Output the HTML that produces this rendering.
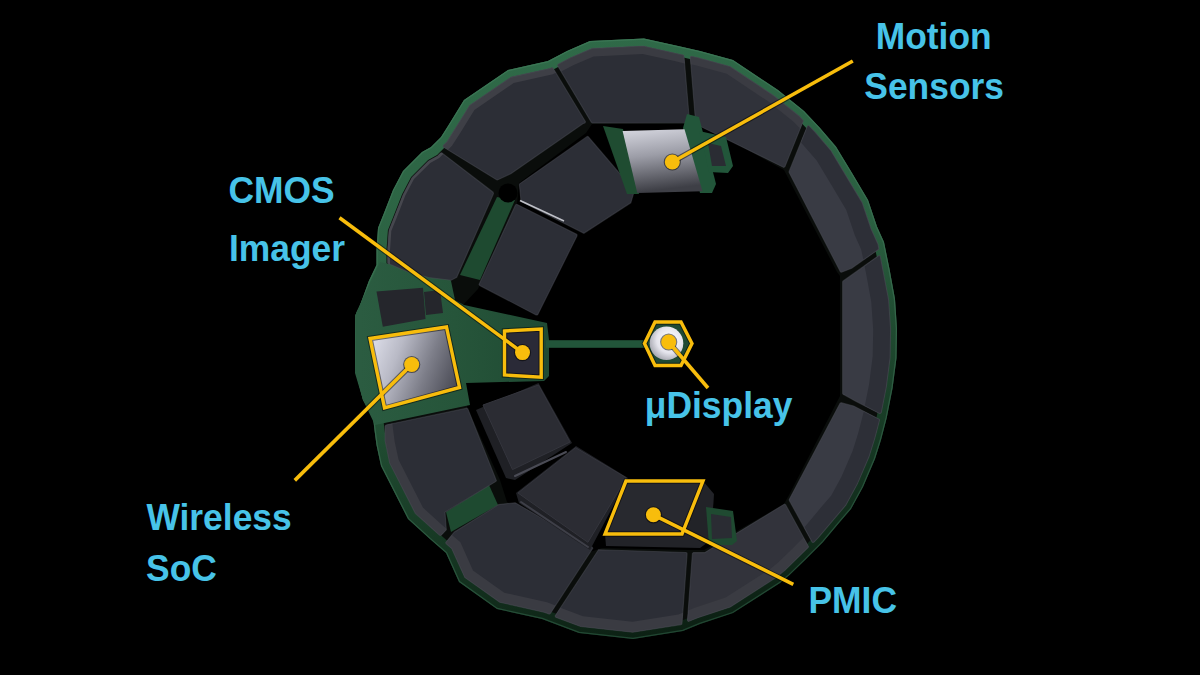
<!DOCTYPE html>
<html><head><meta charset="utf-8"><style>
html,body{margin:0;padding:0;background:#000;width:1200px;height:675px;overflow:hidden}
svg{display:block}
.lb{font-family:"Liberation Sans",sans-serif;font-weight:bold;font-size:37px;fill:#47c3e8}
</style></head><body>
<svg width="1200" height="675" viewBox="0 0 1200 675">
<rect width="1200" height="675" fill="#000"/>
<defs>
<linearGradient id="silv" x1="0" y1="0.25" x2="1" y2="0.6"><stop offset="0" stop-color="#dcdde8"/><stop offset="0.3" stop-color="#b9bac6"/><stop offset="0.65" stop-color="#7d7e89"/><stop offset="1" stop-color="#4a4b55"/></linearGradient>
<linearGradient id="silv2" x1="0" y1="0" x2="0.15" y2="1"><stop offset="0" stop-color="#d6d7e0"/><stop offset="0.45" stop-color="#9c9da7"/><stop offset="1" stop-color="#3e3f46"/></linearGradient>
<linearGradient id="pcbg" gradientUnits="userSpaceOnUse" x1="360" y1="0" x2="550" y2="0"><stop offset="0" stop-color="#2b5c41"/><stop offset="0.5" stop-color="#26553a"/><stop offset="1" stop-color="#1f4a33"/></linearGradient>
<radialGradient id="hexc" cx="0.6" cy="0.4" r="0.65"><stop offset="0" stop-color="#ffffff"/><stop offset="0.6" stop-color="#e4e4ec"/><stop offset="1" stop-color="#a4a5ae"/></radialGradient>
<linearGradient id="rimhl" gradientUnits="userSpaceOnUse" x1="560" y1="40" x2="700" y2="640"><stop offset="0" stop-color="#3a7654"/><stop offset="0.5" stop-color="#36694c"/><stop offset="1" stop-color="#1f4430"/></linearGradient>
<linearGradient id="rim" gradientUnits="userSpaceOnUse" x1="560" y1="40" x2="700" y2="640"><stop offset="0" stop-color="#2f6a48"/><stop offset="0.4" stop-color="#2a5f40"/><stop offset="0.58" stop-color="#1f4a30"/><stop offset="0.8" stop-color="#143320"/><stop offset="1" stop-color="#0b1e12"/></linearGradient>
</defs>
<path d="M567.0,51.0 L548.0,61.0 L508.0,70.0 L464.0,100.0 L448.0,126.0 L441.0,137.0 L431.0,147.0 L422.0,152.0 L403.0,171.0 L393.0,190.0 L384.0,213.0 L378.0,228.0 L376.5,250.0 L376.5,265.0 L368.8,281.0 L359.0,308.0 L355.4,315.0 L355.0,369.0 L363.0,400.0 L372.7,415.0 L374.6,431.0 L376.5,445.0 L381.0,466.0 L408.0,519.0 L430.0,539.0 L446.0,553.0 L459.0,582.0 L497.0,609.0 L542.0,619.0 L579.0,633.0 L633.0,639.0 L683.0,631.0 L700.0,624.0 L733.0,613.0 L780.0,583.0 L789.5,575.0 L804.0,561.0 L823.0,542.0 L839.0,523.0 L851.0,509.0 L863.0,487.0 L875.0,459.0 L881.0,440.0 L886.7,418.0 L892.6,388.0 L896.5,358.0 L897.0,329.0 L895.0,299.0 L889.6,269.6 L884.0,242.0 L877.0,226.5 L868.0,200.0 L852.0,173.0 L836.0,146.6 L820.0,128.0 L804.0,111.0 L778.0,90.0 L733.0,60.0 L700.0,51.0 L678.0,46.0 L644.0,38.5 L590.0,41.0Z M690.0,124.0 L700.0,124.0 L784.0,170.0 L837.0,272.0 L840.0,276.0 L840.0,396.0 L789.0,495.0 L784.0,504.0 L704.0,550.0 L690.0,550.0 L602.0,548.0 L587.0,553.0 L507.0,502.0 L500.0,480.0 L467.0,407.0 L466.0,383.0 L463.0,305.0 L478.0,289.0 L517.0,204.0 L519.0,183.0 L586.0,133.0 L592.0,124.0Z" fill="#0a0d0b" />
<path d="M567.0,51.0 L548.0,61.0 L508.0,70.0 L464.0,100.0 L448.0,126.0 L441.0,137.0 L431.0,147.0 L422.0,152.0 L403.0,171.0 L393.0,190.0 L384.0,213.0 L378.0,228.0 L376.5,250.0 L376.5,265.0 L368.8,281.0 L359.0,308.0 L355.4,315.0 L355.0,369.0 L363.0,400.0 L372.7,415.0 L374.6,431.0 L376.5,445.0 L381.0,466.0 L408.0,519.0 L430.0,539.0 L446.0,553.0 L459.0,582.0 L497.0,609.0 L542.0,619.0 L579.0,633.0 L633.0,639.0 L683.0,631.0 L700.0,624.0 L733.0,613.0 L780.0,583.0 L789.5,575.0 L804.0,561.0 L823.0,542.0 L839.0,523.0 L851.0,509.0 L863.0,487.0 L875.0,459.0 L881.0,440.0 L886.7,418.0 L892.6,388.0 L896.5,358.0 L897.0,329.0 L895.0,299.0 L889.6,269.6 L884.0,242.0 L877.0,226.5 L868.0,200.0 L852.0,173.0 L836.0,146.6 L820.0,128.0 L804.0,111.0 L778.0,90.0 L733.0,60.0 L700.0,51.0 L678.0,46.0 L644.0,38.5 L590.0,41.0Z M643.1,48.6 L675.8,55.8 L697.6,60.7 L728.8,69.2 L772.1,98.1 L797.2,118.4 L812.6,134.7 L827.9,152.5 L843.4,178.1 L858.9,204.2 L867.7,230.2 L874.4,245.1 L879.8,271.5 L885.1,300.2 L887.0,329.2 L886.5,357.3 L882.7,386.4 L876.9,415.8 L871.4,437.2 L865.6,455.5 L854.0,482.6 L842.7,503.3 L831.4,516.5 L815.6,535.2 L797.0,553.9 L782.8,567.6 L774.1,574.9 L728.7,603.9 L696.5,614.6 L680.3,621.3 L632.8,628.9 L581.4,623.2 L544.9,609.4 L501.1,599.7 L467.0,575.4 L454.2,546.9 L436.7,531.5 L416.1,512.8 L390.5,462.6 L386.4,443.3 L384.5,429.7 L382.4,411.5 L372.3,395.9 L365.0,367.8 L365.4,317.5 L368.2,312.0 L378.0,284.9 L386.5,267.3 L386.5,250.3 L387.9,230.3 L393.3,216.7 L402.1,194.2 L411.1,177.0 L428.1,160.1 L437.1,155.1 L448.8,143.3 L456.5,131.3 L471.4,107.1 L512.1,79.3 L551.5,70.5 L571.3,60.0 L592.3,50.9Z" fill="url(#rim)" />
<path d="M590.1,41.6 L567.3,51.5 L548.2,61.6 L508.2,70.6 L464.4,100.4 L448.5,126.3 L441.5,137.4 L431.4,147.5 L422.4,152.5 L403.5,171.4 L393.5,190.2 L384.6,213.2 L378.6,228.1 L377.1,250.0 L377.1,265.1 L369.4,281.2 L359.6,308.2 L356.0,315.1 L355.6,368.9 L363.6,399.8 L373.3,414.8 L375.2,430.9 L377.1,444.9 L381.6,465.8 L408.5,518.6 L430.4,538.6 L446.5,552.6 L459.5,581.6 L497.2,608.4 L542.2,618.4 L579.1,632.4 L633.0,638.4 L682.8,630.4 L699.8,623.4 L732.7,612.5 L779.6,582.5 L789.1,574.6 L803.6,560.6 L822.6,541.6 L838.5,522.6 L850.5,508.7 L862.5,486.7 L874.4,458.8 L880.4,439.8 L886.1,417.9 L892.0,387.9 L895.9,358.0 L896.4,329.0 L894.4,299.1 L889.0,269.7 L883.4,242.2 L876.4,226.7 L867.5,200.3 L851.5,173.3 L835.5,147.0 L819.6,128.4 L803.6,111.4 L777.6,90.5 L732.7,60.6 L699.9,51.6 L677.9,46.6 L643.9,39.1Z" fill="none" stroke="url(#rimhl)" stroke-width="1.2"/>
<polygon points="380.0,262.0 370.0,283.0 356.0,313.0 355.0,373.0 363.0,400.0 375.0,425.0 470.0,405.0 466.0,383.0 544.0,381.0 549.0,376.0 549.0,348.0 549.0,340.0 547.0,323.0 464.0,305.0 455.0,300.0 451.0,281.0 448.0,276.0" fill="url(#pcbg)" />
<rect x="546" y="340.2" width="99" height="7.6" fill="#22553a"/>
<polygon points="497.0,197.0 515.0,200.0 480.0,280.0 460.0,275.0" fill="#1e4a30" />
<polygon points="446.0,512.0 489.0,485.0 498.0,505.0 451.0,532.0" fill="#1e4a30" />
<path d="M591.4,122.4 L592.4,123.0 L689.0,122.8 L689.5,121.7 L683.9,55.3 L683.2,54.9 L643.3,46.0 L591.9,48.4 L570.3,57.7 L558.1,64.2 L557.6,64.9 L557.7,65.8Z" fill="#2c2e36" />
<path d="M683.9,55.3 L683.2,54.9 L643.3,46.0 L591.9,48.4 L570.3,57.7 L558.1,64.2 L557.6,64.9 L557.7,65.8 L561.2,71.6 L573.7,65.0 L593.6,56.4 L642.7,54.1 L674.6,61.1 L684.6,63.4Z" fill="#3a3b42" />
<path d="M591.4,122.4 L592.4,123.0 L689.0,122.8 L689.5,121.7 L683.9,55.3 L683.2,54.9 L643.3,46.0 L591.9,48.4 L570.3,57.7 L558.1,64.2 L557.6,64.9 L557.7,65.8Z" fill="none" stroke="#50515a" stroke-opacity="0.45" stroke-width="1.1"/>
<path d="M695.7,123.4 L696.4,124.4 L783.8,167.4 L784.9,166.7 L803.3,121.0 L803.1,120.2 L799.2,116.1 L773.9,95.7 L730.1,66.5 L698.3,57.8 L691.4,56.3 L690.6,56.7 L690.3,57.6Z" fill="#30323a" />
<path d="M803.3,121.0 L803.1,120.2 L799.2,116.1 L773.9,95.7 L730.1,66.5 L698.3,57.8 L691.4,56.3 L690.6,56.7 L690.3,57.6 L690.8,64.3 L696.4,65.6 L726.7,73.8 L769.1,102.1 L793.8,122.0 L800.2,128.8Z" fill="#3a3b42" />
<path d="M695.7,123.4 L696.4,124.4 L783.8,167.4 L784.9,166.7 L803.3,121.0 L803.1,120.2 L799.2,116.1 L773.9,95.7 L730.1,66.5 L698.3,57.8 L691.4,56.3 L690.6,56.7 L690.3,57.6Z" fill="none" stroke="#50515a" stroke-opacity="0.45" stroke-width="1.1"/>
<path d="M789.1,171.4 L789.1,172.4 L840.5,272.1 L841.6,272.3 L851.7,268.2 L878.5,249.4 L878.8,248.5 L877.9,244.0 L871.0,228.8 L862.1,202.6 L830.8,150.4 L815.3,132.3 L808.9,125.7 L808.0,125.7 L807.3,126.3Z" fill="#393b44" />
<path d="M878.5,249.4 L878.8,248.5 L877.9,244.0 L871.0,228.8 L862.1,202.6 L830.8,150.4 L815.3,132.3 L808.9,125.7 L808.0,125.7 L807.3,126.3 L800.8,142.3 L802.3,143.9 L816.7,160.6 L831.6,185.2 L846.3,210.0 L854.8,235.2 L861.2,249.4 L863.4,260.0Z" fill="#2d2f37" />
<path d="M789.1,171.4 L789.1,172.4 L840.5,272.1 L841.6,272.3 L851.7,268.2 L878.5,249.4 L878.8,248.5 L877.9,244.0 L871.0,228.8 L862.1,202.6 L830.8,150.4 L815.3,132.3 L808.9,125.7 L808.0,125.7 L807.3,126.3Z" fill="none" stroke="#50515a" stroke-opacity="0.45" stroke-width="1.1"/>
<path d="M878.6,255.8 L843.1,281.0 L842.6,281.8 L842.6,393.5 L843.2,394.3 L855.7,401.2 L879.5,413.4 L880.3,413.5 L881.3,412.5 L886.3,387.0 L890.1,357.6 L890.6,329.2 L888.6,299.7 L880.2,256.1 L879.5,255.6Z" fill="#393b44" />
<path d="M864.5,265.7 L866.2,274.1 L871.3,302.0 L873.2,329.6 L872.7,356.3 L869.1,384.2 L864.8,405.9 L879.5,413.4 L880.3,413.5 L881.3,412.5 L886.3,387.0 L890.1,357.6 L890.6,329.2 L888.6,299.7 L880.2,256.1 L879.5,255.6 L878.6,255.8Z" fill="#2d2f37" />
<path d="M878.6,255.8 L843.1,281.0 L842.6,281.8 L842.6,393.5 L843.2,394.3 L855.7,401.2 L879.5,413.4 L880.3,413.5 L881.3,412.5 L886.3,387.0 L890.1,357.6 L890.6,329.2 L888.6,299.7 L880.2,256.1 L879.5,255.6Z" fill="none" stroke="#50515a" stroke-opacity="0.45" stroke-width="1.1"/>
<path d="M853.7,406.0 L841.1,402.7 L840.0,403.3 L789.2,499.6 L789.3,500.5 L812.0,541.8 L812.7,542.4 L813.8,542.2 L818.3,537.6 L845.8,505.2 L857.3,484.1 L869.0,456.8 L874.8,438.3 L879.5,420.3 L879.3,419.3Z" fill="#393b44" />
<path d="M812.0,541.8 L812.7,542.4 L813.8,542.2 L818.3,537.6 L845.8,505.2 L857.3,484.1 L869.0,456.8 L874.8,438.3 L879.5,420.3 L879.3,419.3 L863.8,411.2 L863.5,412.7 L858.1,433.4 L852.7,450.7 L841.6,476.6 L831.3,495.4 L820.9,507.6 L805.5,525.9 L804.0,527.3Z" fill="#2d2f37" />
<path d="M853.7,406.0 L841.1,402.7 L840.0,403.3 L789.2,499.6 L789.3,500.5 L812.0,541.8 L812.7,542.4 L813.8,542.2 L818.3,537.6 L845.8,505.2 L857.3,484.1 L869.0,456.8 L874.8,438.3 L879.5,420.3 L879.3,419.3Z" fill="none" stroke="#50515a" stroke-opacity="0.45" stroke-width="1.1"/>
<path d="M704.7,552.6 L693.4,552.6 L692.4,553.5 L687.5,620.1 L687.7,620.9 L688.5,621.4 L697.7,617.8 L730.3,606.9 L776.1,577.6 L785.1,570.1 L808.2,547.5 L808.5,546.5 L785.6,504.7 L784.5,504.1Z" fill="#32333b" />
<path d="M687.5,620.1 L687.7,620.9 L688.5,621.4 L697.7,617.8 L730.3,606.9 L776.1,577.6 L785.1,570.1 L808.2,547.5 L808.5,546.5 L803.5,537.4 L792.1,548.9 L778.1,562.4 L769.9,569.3 L725.6,597.5 L694.1,608.1 L688.2,610.5Z" fill="#3a3b42" />
<path d="M704.7,552.6 L693.4,552.6 L692.4,553.5 L687.5,620.1 L687.7,620.9 L688.5,621.4 L697.7,617.8 L730.3,606.9 L776.1,577.6 L785.1,570.1 L808.2,547.5 L808.5,546.5 L785.6,504.7 L784.5,504.1Z" fill="none" stroke="#50515a" stroke-opacity="0.45" stroke-width="1.1"/>
<path d="M681.0,624.6 L681.7,624.3 L682.0,623.5 L687.1,553.8 L686.8,552.9 L686.0,552.5 L598.5,549.8 L555.1,616.0 L555.8,617.2 L580.6,626.5 L632.7,632.3Z" fill="#2c2e36" />
<path d="M681.7,624.3 L682.0,623.5 L682.8,612.7 L678.4,614.5 L632.6,621.8 L583.0,616.3 L560.4,607.8 L555.1,616.0 L555.8,617.2 L580.6,626.5 L632.7,632.3 L681.0,624.6Z" fill="#3a3b42" />
<path d="M681.0,624.6 L681.7,624.3 L682.0,623.5 L687.1,553.8 L686.8,552.9 L686.0,552.5 L598.5,549.8 L555.1,616.0 L555.8,617.2 L580.6,626.5 L632.7,632.3Z" fill="none" stroke="#50515a" stroke-opacity="0.45" stroke-width="1.1"/>
<path d="M451.8,548.7 L464.8,577.4 L499.7,602.2 L544.0,612.2 L549.3,614.1 L550.3,613.5 L592.8,548.3 L592.2,547.2 L515.2,502.7 L498.7,504.6 L454.4,532.0 L445.7,542.6 L446.0,543.6Z" fill="#2c2e36" />
<path d="M464.8,577.4 L499.7,602.2 L544.0,612.2 L549.3,614.1 L550.3,613.5 L555.5,605.4 L547.0,602.2 L504.3,592.7 L473.0,570.5 L460.4,542.3 L451.9,534.9 L445.7,542.6 L446.0,543.6 L451.8,548.7Z" fill="#3a3b42" />
<path d="M451.8,548.7 L464.8,577.4 L499.7,602.2 L544.0,612.2 L549.3,614.1 L550.3,613.5 L592.8,548.3 L592.2,547.2 L515.2,502.7 L498.7,504.6 L454.4,532.0 L445.7,542.6 L446.0,543.6Z" fill="none" stroke="#50515a" stroke-opacity="0.45" stroke-width="1.1"/>
<path d="M445.0,512.2 L495.9,481.4 L496.4,480.7 L467.8,408.9 L466.9,408.2 L386.1,424.9 L385.1,425.9 L385.1,440.8 L389.6,462.9 L415.3,513.3 L436.1,532.2 L439.6,535.3 L440.4,535.5 L441.1,535.2 L446.3,529.8Z" fill="#2c2e36" />
<path d="M386.1,424.9 L385.1,425.9 L385.1,440.8 L389.6,462.9 L415.3,513.3 L436.1,532.2 L439.6,535.3 L440.4,535.5 L441.1,535.2 L446.3,529.8 L446.2,528.6 L442.3,525.2 L422.9,507.6 L398.6,459.8 L394.7,441.8 L393.0,428.7 L392.4,423.6Z" fill="#3a3b42" />
<path d="M445.0,512.2 L495.9,481.4 L496.4,480.7 L467.8,408.9 L466.9,408.2 L386.1,424.9 L385.1,425.9 L385.1,440.8 L389.6,462.9 L415.3,513.3 L436.1,532.2 L439.6,535.3 L440.4,535.5 L441.1,535.2 L446.3,529.8Z" fill="none" stroke="#50515a" stroke-opacity="0.45" stroke-width="1.1"/>
<path d="M406.8,271.5 L428.6,277.5 L451.1,280.3 L456.7,277.3 L493.5,193.6 L493.1,192.2 L441.8,152.8 L440.7,153.0 L437.7,155.9 L428.7,161.0 L412.0,177.7 L403.1,194.7 L389.0,230.4 L387.6,250.3 L387.7,262.9 L388.3,263.6Z" fill="#2c2e36" />
<path d="M441.8,152.8 L440.7,153.0 L437.7,155.9 L428.7,161.0 L412.0,177.7 L403.1,194.7 L389.0,230.4 L387.6,250.3 L387.7,262.9 L388.3,263.6 L390.0,264.3 L390.0,250.5 L391.3,231.0 L396.6,218.0 L405.3,195.6 L414.0,179.1 L430.2,162.9 L439.2,157.9 L443.2,153.9Z" fill="#46474e" />
<path d="M406.8,271.5 L428.6,277.5 L451.1,280.3 L456.7,277.3 L493.5,193.6 L493.1,192.2 L441.8,152.8 L440.7,153.0 L437.7,155.9 L428.7,161.0 L412.0,177.7 L403.1,194.7 L389.0,230.4 L387.6,250.3 L387.7,262.9 L388.3,263.6Z" fill="none" stroke="#50515a" stroke-opacity="0.45" stroke-width="1.1"/>
<path d="M443.4,145.3 L443.1,146.3 L443.6,147.2 L496.6,179.7 L497.4,179.9 L510.8,173.7 L582.8,123.7 L585.0,122.9 L585.5,121.7 L553.1,68.2 L551.9,67.6 L550.6,68.2 L511.1,77.1 L469.8,105.2 L447.0,141.8Z" fill="#2c2e36" />
<path d="M443.1,146.3 L443.6,147.2 L448.0,149.8 L452.0,145.8 L459.9,133.4 L474.4,109.9 L513.7,83.1 L552.9,74.3 L555.8,72.7 L553.1,68.2 L551.9,67.6 L550.6,68.2 L511.1,77.1 L469.8,105.2 L447.0,141.8 L443.4,145.3Z" fill="#3e3f46" />
<path d="M443.4,145.3 L443.1,146.3 L443.6,147.2 L496.6,179.7 L497.4,179.9 L510.8,173.7 L582.8,123.7 L585.0,122.9 L585.5,121.7 L553.1,68.2 L551.9,67.6 L550.6,68.2 L511.1,77.1 L469.8,105.2 L447.0,141.8Z" fill="none" stroke="#50515a" stroke-opacity="0.45" stroke-width="1.1"/>
<path d="M521.0,200.9 L521.7,201.9 L583.9,233.3 L630.8,202.8 L634.4,190.7 L588.3,136.8 L587.3,136.4 L519.7,183.8 L519.4,184.8Z" fill="#2c2e36" />
<path d="M521.0,200.9 L521.7,201.9 L583.9,233.3 L630.8,202.8 L634.4,190.7 L588.3,136.8 L587.3,136.4 L519.7,183.8 L519.4,184.8Z" fill="none" stroke="#50515a" stroke-opacity="0.45" stroke-width="1.1"/>
<path d="M515.5,205.1 L479.1,284.3 L479.7,285.5 L536.1,314.9 L537.2,315.0 L537.8,314.4 L577.0,235.9 L577.0,234.8 L576.5,234.2 L517.2,204.5 L516.1,204.5Z" fill="#2c2e36" />
<path d="M515.5,205.1 L479.1,284.3 L479.7,285.5 L536.1,314.9 L537.2,315.0 L537.8,314.4 L577.0,235.9 L577.0,234.8 L576.5,234.2 L517.2,204.5 L516.1,204.5Z" fill="none" stroke="#50515a" stroke-opacity="0.45" stroke-width="1.1"/>
<polygon points="476.0,410.0 538.5,383.0 572.0,443.0 515.0,480.0 506.0,478.0" fill="#1f2025" />
<polygon points="483.0,405.0 538.5,385.0 570.0,442.0 512.5,469.6" fill="#2b2c33" stroke="#34353d" stroke-width="1"/>
<polygon points="516.0,493.0 576.0,446.0 628.0,478.0 590.0,550.0 519.0,503.0" fill="#1f2025" />
<polygon points="518.0,493.0 575.6,447.7 626.3,477.8 587.9,542.3" fill="#2b2c33" stroke="#34353d" stroke-width="1"/>
<line x1="515" y1="476" x2="566" y2="452" stroke="#4a4b55" stroke-width="2" stroke-linecap="round"/>
<line x1="521" y1="502" x2="588" y2="547" stroke="#3e3f48" stroke-width="2" stroke-linecap="round"/>
<line x1="520" y1="200.5" x2="564" y2="221" stroke="#d8d9e0" stroke-width="1.6" stroke-opacity="0.85"/>
<polygon points="603.0,126.0 623.0,129.0 639.0,194.0 627.0,194.0" fill="#1f4c31" />
<polygon points="687.0,114.0 699.0,117.0 716.0,184.0 712.0,193.0 700.0,193.0 683.0,128.0" fill="#22563a" />
<polygon points="699.0,131.0 726.0,137.0 733.0,166.0 728.0,173.0 709.0,172.0 704.0,150.0" fill="#22563a" />
<polygon points="708.0,143.0 721.0,146.0 726.0,166.0 712.0,166.0" fill="#2a2c33" />
<polygon points="605.0,534.0 626.0,481.0 703.0,481.0 714.0,494.0 711.0,540.0 700.0,548.0 606.0,546.0" fill="#222328" />
<polygon points="706.0,507.0 733.0,511.0 737.0,541.0 732.0,545.0 709.0,545.0" fill="#1f4a31" />
<polygon points="711.0,514.0 731.0,517.0 732.0,538.0 712.0,539.0" fill="#2a2c33" />
<polygon points="376.5,291.5 423.0,287.7 425.5,319.0 382.8,326.7" fill="#25262c" />
<polygon points="424.0,292.0 440.0,290.0 443.0,313.0 426.0,315.0" fill="#25262c" />
<circle cx="508" cy="193" r="9.5" fill="#000"/>
<polygon points="370.0,338.5 446.5,327.0 459.5,387.5 384.5,408.0" fill="url(#silv)" />
<polygon points="622.6,131.0 684.5,129.3 702.5,191.3 637.3,192.9" fill="url(#silv2)" />
<polygon points="644.5,343.5 655,322 681,322 692,343.5 681,365.5 655,365.5" fill="#1f4a34"/>
<circle cx="666.5" cy="343.3" r="16.8" fill="url(#hexc)"/>
<polygon points="370.0,338.5 446.5,327.0 459.5,387.5 384.5,408.0" fill="none" stroke="#000" stroke-opacity="0.5" stroke-width="5.4"/>
<polygon points="504.5,331.0 541.2,329.0 541.2,377.2 504.5,375.0" fill="#2a2a37" stroke="#000" stroke-opacity="0.5" stroke-width="5.4"/>
<polygon points="626.0,481.0 703.0,481.0 682.0,534.0 605.0,534.0" fill="#28292f" stroke="#000" stroke-opacity="0.5" stroke-width="5.4"/>
<polygon points="644.5,343.5 655.0,322.0 681.0,322.0 692.0,343.5 681.0,365.5 655.0,365.5" fill="none" stroke="#000" stroke-opacity="0.5" stroke-width="5.4"/>
<line x1="672.3" y1="162" x2="852.8" y2="61" stroke="#000" stroke-opacity="0.5" stroke-width="5.6"/>
<circle cx="672.3" cy="162" r="8.6" fill="#000" fill-opacity="0.5"/>
<line x1="522.5" y1="352.6" x2="339.5" y2="217.7" stroke="#000" stroke-opacity="0.5" stroke-width="5.6"/>
<circle cx="522.5" cy="352.6" r="8.6" fill="#000" fill-opacity="0.5"/>
<line x1="411.7" y1="364.5" x2="294.8" y2="480.4" stroke="#000" stroke-opacity="0.5" stroke-width="5.6"/>
<circle cx="411.7" cy="364.5" r="8.6" fill="#000" fill-opacity="0.5"/>
<line x1="668.7" y1="342" x2="708" y2="388" stroke="#000" stroke-opacity="0.5" stroke-width="5.6"/>
<circle cx="668.7" cy="342" r="8.6" fill="#000" fill-opacity="0.5"/>
<line x1="653.4" y1="514.8" x2="793.3" y2="584.4" stroke="#000" stroke-opacity="0.5" stroke-width="5.6"/>
<circle cx="653.4" cy="514.8" r="8.6" fill="#000" fill-opacity="0.5"/>
<polygon points="370.0,338.5 446.5,327.0 459.5,387.5 384.5,408.0" fill="none" stroke="#f8bd0c" stroke-width="3.4"/>
<polygon points="504.5,331.0 541.2,329.0 541.2,377.2 504.5,375.0" fill="none" stroke="#f8bd0c" stroke-width="3.4"/>
<polygon points="626.0,481.0 703.0,481.0 682.0,534.0 605.0,534.0" fill="none" stroke="#f8bd0c" stroke-width="3.4"/>
<polygon points="644.5,343.5 655.0,322.0 681.0,322.0 692.0,343.5 681.0,365.5 655.0,365.5" fill="none" stroke="#f8bd0c" stroke-width="3.4"/>
<line x1="672.3" y1="162" x2="852.8" y2="61" stroke="#f8bd0c" stroke-width="3.6"/>
<circle cx="672.3" cy="162" r="7.5" fill="#f8bd0c"/>
<line x1="522.5" y1="352.6" x2="339.5" y2="217.7" stroke="#f8bd0c" stroke-width="3.6"/>
<circle cx="522.5" cy="352.6" r="7.5" fill="#f8bd0c"/>
<line x1="411.7" y1="364.5" x2="294.8" y2="480.4" stroke="#f8bd0c" stroke-width="3.6"/>
<circle cx="411.7" cy="364.5" r="7.5" fill="#f8bd0c"/>
<line x1="668.7" y1="342" x2="708" y2="388" stroke="#f8bd0c" stroke-width="3.6"/>
<circle cx="668.7" cy="342" r="7.5" fill="#f8bd0c"/>
<line x1="653.4" y1="514.8" x2="793.3" y2="584.4" stroke="#f8bd0c" stroke-width="3.6"/>
<circle cx="653.4" cy="514.8" r="7.5" fill="#f8bd0c"/>
<text transform="translate(875.7,49) scale(0.957,1)" class="lb">Motion</text>
<text transform="translate(864.3,99) scale(0.957,1)" class="lb">Sensors</text>
<text transform="translate(228.4,203) scale(0.957,1)" class="lb">CMOS</text>
<text transform="translate(228.9,261) scale(0.957,1)" class="lb">Imager</text>
<text transform="translate(146.4,530) scale(0.957,1)" class="lb">Wireless</text>
<text transform="translate(146.1,581) scale(0.957,1)" class="lb">SoC</text>
<text transform="translate(644.8,417.5) scale(0.957,1)" class="lb">μDisplay</text>
<text transform="translate(808.5,612.5) scale(0.957,1)" class="lb">PMIC</text>
</svg>
</body></html>
